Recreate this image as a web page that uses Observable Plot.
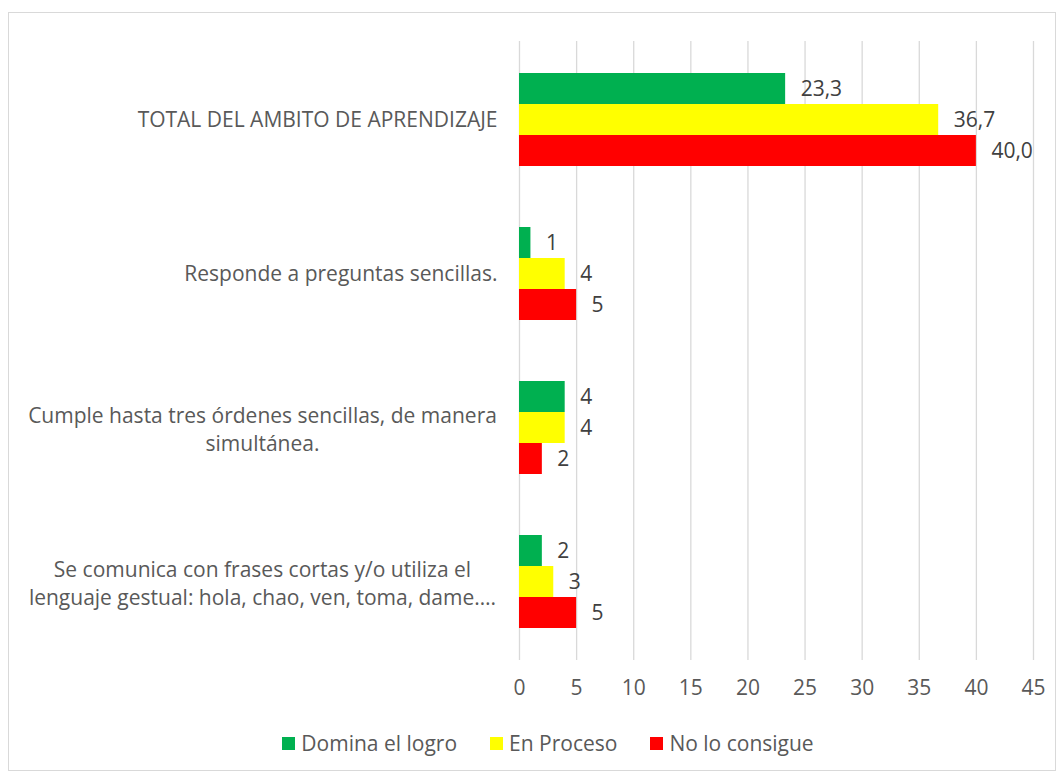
<!DOCTYPE html>
<html>
<head>
<meta charset="utf-8">
<script src="https://cdn.jsdelivr.net/npm/d3@7"></script>
<script src="https://cdn.jsdelivr.net/npm/@observablehq/plot@0.6"></script>
<style>
  html, body { margin: 0; padding: 0; background: #fff; }
  #frame {
    position: absolute; left: 8px; top: 12px; width: 1046px; height: 757px;
    border: 1px solid #d9d9d9; background: #fff; font-family: "Open Sans", sans-serif;
  }
  #grid, #chart { position: absolute; left: 0; top: 0; }
  #legend {
    position: absolute; left: 32px; right: 0; top: 716px;
    display: flex; justify-content: center; align-items: center; gap: 33px;
    font-size: 21px; color: #595959; line-height: 28px;
  }
  .item { display: flex; align-items: center; gap: 6px; }
  .sw { width: 13px; height: 13px; display: inline-block; }
</style>
</head>
<body>
<div id="frame">
  <div id="grid"></div>
  <div id="chart"></div>
  <div id="legend"></div>
</div>
<script>
const categories = [
  "TOTAL DEL AMBITO DE APRENDIZAJE",
  "Responde a preguntas sencillas.",
  "Cumple hasta tres órdenes sencillas, de manera simultánea.",
  "Se comunica con frases cortas y/o utiliza el lenguaje gestual: hola, chao, ven, toma, dame…."
];
const categoryLabels = [
  "TOTAL DEL AMBITO DE APRENDIZAJE",
  "Responde a preguntas sencillas.",
  "Cumple hasta tres órdenes sencillas, de manera\nsimultánea.",
  "Se comunica con frases cortas y/o utiliza el\nlenguaje gestual: hola, chao, ven, toma, dame…."
];
const decimals = [1, 0, 0, 0];
const series = ["Domina el logro", "En Proceso", "No lo consigue"];
const colors = ["#00B050", "#FFFF00", "#FF0000"];
const dominaElLogro = [23.3, 1, 4, 2];
const enProceso = [36.7, 4, 4, 3];
const noLoConsigue = [40.0, 5, 2, 5];
const xTicks = [0, 5, 10, 15, 20, 25, 30, 35, 40, 45];

const seriesValues = [dominaElLogro, enProceso, noLoConsigue];
const data = categories.flatMap((c, i) => series.map((s, j) => ({
  cat: c, serie: s, value: seriesValues[j][i], dec: decimals[i]
})));
const labels = categories.map((c, i) => ({cat: c, label: categoryLabels[i], multi: categoryLabels[i].includes("\n")}));
const fmt = d => d.value.toFixed(d.dec).replace(".", ",");

const common = {
  width: 1046,
  height: 700,
  marginLeft: 510,
  marginRight: 22,
  marginTop: 28,
  marginBottom: 53,
  style: {fontFamily: "'Open Sans', sans-serif", fontSize: "21px", color: "#595959", background: "transparent"}
};

const grid = Plot.plot({
  ...common,
  x: {domain: [0, 45], ticks: xTicks, label: null},
  marks: [
    Plot.gridX(xTicks, {stroke: "#d9d9d9", strokeOpacity: 1, strokeWidth: 1.3}),
    Plot.axisX(xTicks, {tickSize: 0, tickPadding: 20, label: null, fill: "#595959", fontSize: 21})
  ]
});
document.getElementById("grid").appendChild(grid);

const chart = Plot.plot({
  ...common,
  x: {domain: [0, 45], axis: null},
  y: {domain: series, axis: null, padding: 0},
  fy: {domain: categories, paddingInner: 0.38, paddingOuter: 0.19, axis: null, label: null},
  color: {domain: series, range: colors},
  marks: [
    Plot.barX(data, {x: "value", y: "serie", fy: "cat", fill: "serie"}),
    Plot.text(data, {x: "value", y: "serie", fy: "cat", text: fmt, textAnchor: "start", dx: 15, fill: "#404040", fontSize: 21}),
    Plot.text(labels.filter(d => !d.multi), {fy: "cat", text: "label", frameAnchor: "left", textAnchor: "end", dx: -22, fill: "#595959", fontSize: 21}),
    Plot.text(labels.filter(d => d.multi), {fy: "cat", text: "label", frameAnchor: "left", textAnchor: "middle", dx: -257, lineHeight: 1.35, fill: "#595959", fontSize: 21})
  ]
});
document.getElementById("chart").appendChild(chart);

const legend = document.getElementById("legend");
series.forEach((s, i) => {
  const item = document.createElement("div");
  item.className = "item";
  const sw = document.createElement("span");
  sw.className = "sw";
  sw.style.background = colors[i];
  const t = document.createElement("span");
  t.textContent = s;
  item.appendChild(sw);
  item.appendChild(t);
  legend.appendChild(item);
});
</script>
</body>
</html>
